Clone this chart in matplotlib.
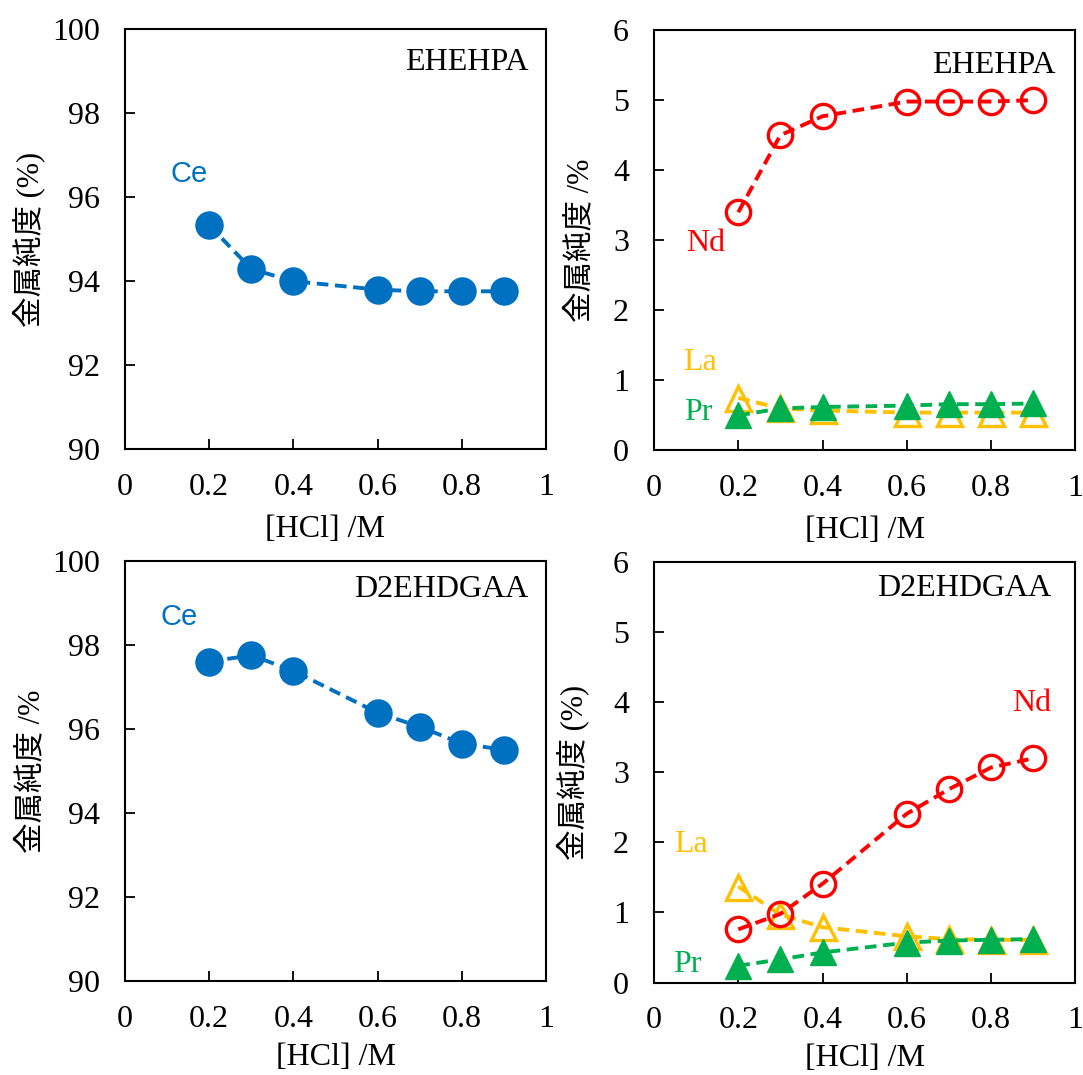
import numpy as np
import matplotlib
matplotlib.use("Agg")
import matplotlib.pyplot as plt

# ---- data ----
hcl = [0.2, 0.3, 0.4, 0.6, 0.7, 0.8, 0.9]

ehehpa_ce = [95.33, 94.29, 94.00, 93.80, 93.76, 93.76, 93.76]
ehehpa_nd = [3.40, 4.50, 4.77, 4.98, 4.98, 4.98, 5.00]
ehehpa_la = [0.75, 0.60, 0.57, 0.54, 0.54, 0.54, 0.54]
ehehpa_pr = [0.50, 0.60, 0.62, 0.64, 0.66, 0.66, 0.67]

d2ehdgaa_ce = [97.61, 97.76, 97.39, 96.39, 96.06, 95.66, 95.51]
d2ehdgaa_nd = [0.76, 0.98, 1.41, 2.41, 2.76, 3.07, 3.20]
d2ehdgaa_la = [1.37, 0.97, 0.79, 0.66, 0.62, 0.61, 0.61]
d2ehdgaa_pr = [0.24, 0.33, 0.43, 0.57, 0.60, 0.61, 0.62]

xticks = [0, 0.2, 0.4, 0.6, 0.8, 1]
xticklabels = ["0", "0.2", "0.4", "0.6", "0.8", "1"]

BLUE = "#0070C0"
RED = "#FF0000"
ORANGE = "#FFC000"
GREEN = "#00B050"

SERIF = ["Liberation Serif", "Noto Sans CJK JP", "DejaVu Sans"]
plt.rcParams['font.family'] = SERIF
plt.rcParams['axes.linewidth'] = 1.5

DASH = (0, (3, 1.7))
LW = 2.8
FS = 23


def style_axes(ax, ylim, yticks, ylabel, ylabel_x, xlabel_pos):
	ax.set_xlim(0, 1)
	ax.set_ylim(*ylim)
	ax.set_xticks(xticks)
	ax.set_xticklabels(xticklabels)
	ax.set_yticks(yticks)
	ax.set_yticklabels([str(t) for t in yticks])
	ax.tick_params(axis='both', direction='in', length=7, width=1.3,
				   labelsize=FS, top=False, right=False)
	ax.tick_params(axis='x', pad=17)
	ax.tick_params(axis='y', pad=18)
	ax.set_ylabel(ylabel, fontsize=22, family=SERIF)
	ax.yaxis.set_label_coords(ylabel_x, 0.5)
	ax.set_xlabel("[HCl] /M", fontsize=FS, va='top')
	ax.xaxis.set_label_coords(*xlabel_pos)


def draw_minor(ax, nd, la, pr):
	ax.plot(hcl, la, linestyle=DASH, lw=LW, color=ORANGE, marker='^',
			markersize=18, markerfacecolor='none', markeredgewidth=2.4,
			markeredgecolor=ORANGE)
	ax.plot(hcl, pr, linestyle=DASH, lw=LW, color=GREEN, marker='^',
			markersize=19, markerfacecolor=GREEN, markeredgecolor=GREEN,
			markeredgewidth=1)
	ax.plot(hcl, nd, linestyle=DASH, lw=LW, color=RED, marker='o',
			markersize=17.5, markerfacecolor='none', markeredgewidth=2.4,
			markeredgecolor=RED)


fig = plt.figure(figsize=(10.83, 10.75), dpi=100)

w, h = 0.389, 0.391
ax_tl = fig.add_axes([0.1154, 0.582, w, h])
ax_tr = fig.add_axes([0.6039, 0.581, w, h])
ax_bl = fig.add_axes([0.1154, 0.087, w, h])
ax_br = fig.add_axes([0.6039, 0.086, w, h])

# top left: Ce, EHEHPA
ax_tl.plot(hcl, ehehpa_ce, linestyle=DASH, lw=LW, color=BLUE, marker='o',
		   markersize=19.5, markerfacecolor=BLUE, markeredgecolor=BLUE)
style_axes(ax_tl, (90, 100), [90, 92, 94, 96, 98, 100], "金属純度 (%)",
		   -0.19, (0.474, -0.155))
ax_tl.text(0.957, 99.2, "EHEHPA", ha='right', va='center', fontsize=FS)
ax_tl.text(0.153, 96.54, "Ce", ha='center', va='center', fontsize=21,
		   color=BLUE, family="Liberation Sans")

# top right: Nd / La / Pr, EHEHPA
draw_minor(ax_tr, ehehpa_nd, ehehpa_la, ehehpa_pr)
style_axes(ax_tr, (0, 6), [0, 1, 2, 3, 4, 5, 6], "金属純度 /%",
		   -0.14, (0.5, -0.155))
ax_tr.text(0.952, 5.5, "EHEHPA", ha='right', va='center', fontsize=FS)
ax_tr.text(0.123, 2.96, "Nd", ha='center', va='center', fontsize=FS, color=RED)
ax_tr.text(0.108, 1.26, "La", ha='center', va='center', fontsize=FS, color=ORANGE)
ax_tr.text(0.104, 0.54, "Pr", ha='center', va='center', fontsize=FS, color=GREEN)

# bottom left: Ce, D2EHDGAA
ax_bl.plot(hcl, d2ehdgaa_ce, linestyle=DASH, lw=LW, color=BLUE, marker='o',
		   markersize=19.5, markerfacecolor=BLUE, markeredgecolor=BLUE)
style_axes(ax_bl, (90, 100), [90, 92, 94, 96, 98, 100], "金属純度 /%",
		   -0.187, (0.5, -0.147))
ax_bl.text(0.957, 99.33, "D2EHDGAA", ha='right', va='center', fontsize=FS)
ax_bl.text(0.128, 98.67, "Ce", ha='center', va='center', fontsize=21,
		   color=BLUE, family="Liberation Sans")

# bottom right: Nd / La / Pr, D2EHDGAA
draw_minor(ax_br, d2ehdgaa_nd, d2ehdgaa_la, d2ehdgaa_pr)
style_axes(ax_br, (0, 6), [0, 1, 2, 3, 4, 5, 6], "金属純度 (%)",
		   -0.154, (0.5, -0.147))
ax_br.text(0.944, 5.62, "D2EHDGAA", ha='right', va='center', fontsize=FS)
ax_br.text(0.897, 3.99, "Nd", ha='center', va='center', fontsize=FS, color=RED)
ax_br.text(0.088, 1.97, "La", ha='center', va='center', fontsize=FS, color=ORANGE)
ax_br.text(0.080, 0.26, "Pr", ha='center', va='center', fontsize=FS, color=GREEN)

plt.savefig("out.png", dpi=100)
